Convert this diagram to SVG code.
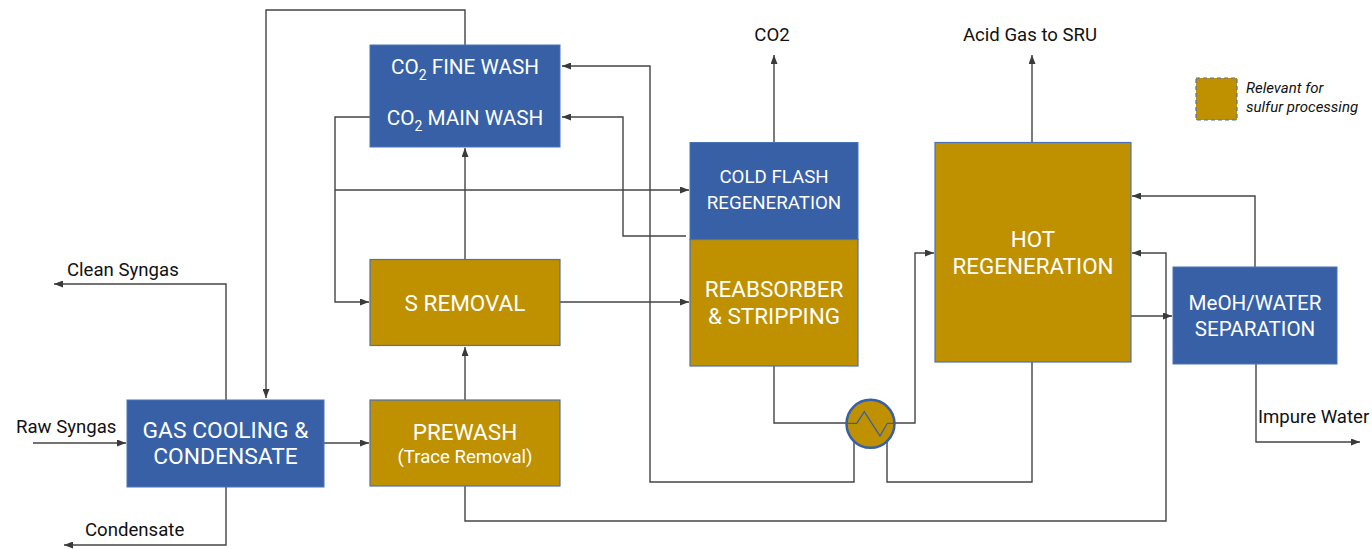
<svg xmlns="http://www.w3.org/2000/svg" width="1372" height="549" viewBox="0 0 1372 549">
<defs>
<marker id="arr" markerUnits="userSpaceOnUse" markerWidth="9" markerHeight="7" refX="9" refY="3.5" orient="auto">
<path d="M0,0 L9,3.5 L0,7 z" fill="#3a3a3a"/>
</marker>
<style>
.blue{fill:#3760a6;stroke:#4a72b8;stroke-width:1}
.gold{fill:#bf9000;stroke:#4a72b8;stroke-width:1.2}
.nt{fill:#fff;font-family:Roboto,"Liberation Sans",sans-serif;text-anchor:middle}
.lbl{fill:#111;font-family:Roboto,"Liberation Sans",sans-serif;font-size:18.6px}
.c{fill:none;stroke:#444;stroke-width:1.4}
.a{marker-end:url(#arr)}
</style>
</defs>
<rect width="1372" height="549" fill="#fff"/>

<g id="connectors">
<path class="c a" d="M465,45 V10 H266 V398"/>
<path class="c a" d="M226,400 V284 H54"/>
<path class="c a" d="M33,443 H126"/>
<path class="c a" d="M226,487 V545 H64"/>
<path class="c a" d="M324,443 H369"/>
<path class="c a" d="M465,400 V347"/>
<path class="c a" d="M465,259 V148"/>
<path class="c a" d="M465,486 V521 H1166 V253 H1132"/>
<path class="c a" d="M1131,316 H1172"/>
<path class="c a" d="M1255,267 V196 H1132"/>
<path class="c a" d="M1256,364 V442 H1360"/>
<path class="c a" d="M774,142 V55"/>
<path class="c a" d="M1032,142 V55"/>
<path class="c a" d="M370,117 H335 V302 H369"/>
<path class="c a" d="M335,190 H689"/>
<path class="c a" d="M686,236 H623 V117 H562"/>
<path class="c a" d="M854,442 V482 H650 V66 H562"/>
<path class="c a" d="M560,302 H689"/>
<path class="c" d="M774,366 V423 H846"/>
<path class="c a" d="M895,423 H915 V253 H934"/>
<path class="c" d="M1032,362 V482 H887 V442"/>
</g>

<g id="co2-wash">
<rect class="blue" x="370" y="45" width="190" height="102"/>
<text class="nt" x="465" y="74" font-size="20.7">CO<tspan font-size="14" dy="6">2</tspan><tspan dy="-6"> FINE WASH</tspan></text>
<text class="nt" x="465" y="125" font-size="20.7">CO<tspan font-size="14" dy="6">2</tspan><tspan dy="-6"> MAIN WASH</tspan></text>
</g>

<g id="s-removal">
<rect class="gold" x="370" y="259.5" width="190" height="86"/>
<text class="nt" x="465" y="311" font-size="22.5">S REMOVAL</text>
</g>

<g id="prewash">
<rect class="gold" x="370" y="400" width="190" height="86"/>
<text class="nt" x="465" y="440" font-size="22.5">PREWASH</text>
<text class="nt" x="465" y="463" font-size="18.6">(Trace Removal)</text>
</g>

<g id="gas-cooling">
<rect class="blue" x="127" y="400" width="197" height="87"/>
<text class="nt" x="225.5" y="438" font-size="22.8">GAS COOLING &amp;</text>
<text class="nt" x="225.5" y="464" font-size="22.8">CONDENSATE</text>
</g>

<g id="cold-flash">
<rect class="blue" x="690" y="142.5" width="168" height="97"/>
<text class="nt" x="774" y="183" font-size="18.7">COLD FLASH</text>
<text class="nt" x="774" y="209" font-size="18.7">REGENERATION</text>
</g>

<g id="reabsorber">
<rect class="gold" x="690" y="239.5" width="168" height="126.5"/>
<text class="nt" x="774" y="297" font-size="22.5">REABSORBER</text>
<text class="nt" x="774" y="324" font-size="22.5">&amp; STRIPPING</text>
</g>

<g id="hot-regeneration">
<rect class="gold" x="935" y="142.5" width="196" height="219.5"/>
<text class="nt" x="1033" y="247" font-size="22.4">HOT</text>
<text class="nt" x="1033" y="274" font-size="22.4">REGENERATION</text>
</g>

<g id="meoh-water">
<rect class="blue" x="1173" y="267" width="164" height="97"/>
<text class="nt" x="1255" y="310" font-size="20.6">MeOH/WATER</text>
<text class="nt" x="1255" y="336" font-size="20.6">SEPARATION</text>
</g>

<g id="heat-exchanger">
<circle cx="870.5" cy="423.8" r="24" fill="#bf9000" stroke="#3760a6" stroke-width="2.5"/>
<path d="M846,423.3 H856.7 L864.3,411.7 L880,436 L887.3,423.3 H895" fill="none" stroke="#3760a6" stroke-width="1.3"/>
</g>

<g id="labels">
<text class="lbl" x="67" y="276">Clean Syngas</text>
<text class="lbl" x="16" y="433">Raw Syngas</text>
<text class="lbl" x="85" y="536">Condensate</text>
<text class="lbl" x="772" y="41" text-anchor="middle">CO2</text>
<text class="lbl" x="1030" y="41" text-anchor="middle">Acid Gas to SRU</text>
<text class="lbl" x="1258" y="423">Impure Water</text>
</g>

<g id="legend">
<rect x="1196" y="78" width="41" height="42" fill="#bf9000" stroke="#4a72b8" stroke-width="1.2" stroke-dasharray="4,3"/>
<text x="1246" y="93" font-family="Roboto,'Liberation Sans',sans-serif" font-size="15" font-style="italic" fill="#111">Relevant for</text>
<text x="1246" y="112" font-family="Roboto,'Liberation Sans',sans-serif" font-size="15" font-style="italic" fill="#111">sulfur processing</text>
</g>
</svg>
